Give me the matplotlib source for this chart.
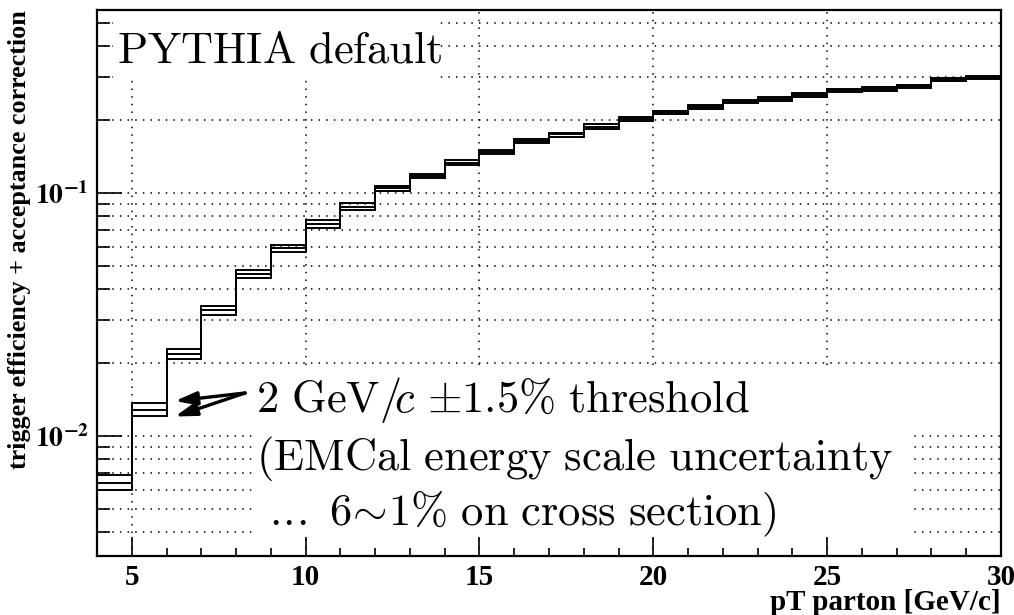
import numpy as np
import matplotlib.pyplot as plt
from matplotlib.patches import Rectangle
from matplotlib.ticker import FixedLocator, NullFormatter

plt.rcParams['mathtext.fontset'] = 'cm'

# bin edges in pT parton [GeV/c]
pt_edges = [4, 5, 6, 7, 8, 9, 10, 11, 12, 13, 14, 15, 16, 17, 18, 19, 20,
            21, 22, 23, 24, 25, 26, 27, 28, 29, 30]

# threshold 2 GeV/c -1.5%, nominal, +1.5%
eff_low_thr = [0.00689, 0.01359, 0.0227, 0.0343, 0.0481, 0.0611, 0.0772, 0.0904,
               0.1070, 0.1200, 0.1364, 0.1500, 0.1663, 0.1766, 0.1912, 0.2042,
               0.2168, 0.2296, 0.2406, 0.2468, 0.2563, 0.2680, 0.2714, 0.2774,
               0.2955, 0.3011]
eff_nominal = [0.00641, 0.01276, 0.0217, 0.0329, 0.0463, 0.0590, 0.0743, 0.0876,
               0.1045, 0.1175, 0.1329, 0.1475, 0.1633, 0.1739, 0.1869, 0.2016,
               0.2133, 0.2253, 0.2367, 0.2429, 0.2515, 0.2642, 0.2670, 0.2740,
               0.2917, 0.2972]
eff_high_thr = [0.00598, 0.01205, 0.0207, 0.0315, 0.0444, 0.0570, 0.0718, 0.0849,
                0.1020, 0.1146, 0.1297, 0.1443, 0.1597, 0.1700, 0.1833, 0.1978,
                0.2101, 0.2210, 0.2331, 0.2383, 0.2468, 0.2600, 0.2628, 0.2696,
                0.2881, 0.2927]

x_major = [5, 10, 15, 20, 25, 30]
y_major = [0.01, 0.1]
y_major_labels = [r'$\mathbf{10^{-2}}$', r'$\mathbf{10^{-1}}$']
y_minor = [0.004, 0.005, 0.006, 0.007, 0.008, 0.009,
           0.02, 0.03, 0.04, 0.05, 0.06, 0.07, 0.08, 0.09,
           0.2, 0.3, 0.4, 0.5]

lab_font = dict(family='Liberation Serif', weight='bold')

fig = plt.figure(figsize=(10.14, 6.15), dpi=100)
ax = fig.add_axes([0.0957, 0.0959, 0.8915, 0.8878])

for vals in (eff_low_thr, eff_nominal, eff_high_thr):
    ax.stairs(vals, pt_edges, color='k', lw=1.4, zorder=2)

ax.set_yscale('log')
ax.set_xlim(4, 30)
ax.set_ylim(0.0032, 0.565)

ax.xaxis.set_major_locator(FixedLocator(x_major))
ax.xaxis.set_minor_locator(FixedLocator(pt_edges))
ax.yaxis.set_major_locator(FixedLocator(y_major))
ax.yaxis.set_minor_locator(FixedLocator(y_minor))
ax.yaxis.set_minor_formatter(NullFormatter())
ax.set_xticklabels([str(v) for v in x_major], fontsize=21, **lab_font)
ax.set_yticklabels(y_major_labels, fontsize=20)
for t in ax.get_yticklabels():
    t.set_math_fontfamily('stix')

ax.tick_params(which='both', direction='in', width=1.2)
ax.tick_params(axis='x', which='major', length=14, pad=6)
ax.tick_params(axis='x', which='minor', length=6)
ax.tick_params(axis='y', which='major', length=18, pad=6)
ax.tick_params(axis='y', which='minor', length=9)

ax.set_axisbelow(True)
ax.grid(True, which='major', axis='x', color='k', ls=(0, (1, 4)), lw=1.1)
ax.grid(True, which='both', axis='y', color='k', ls=(0, (1, 4)), lw=1.1)
for s in ax.spines.values():
    s.set_linewidth(1.6)

ax.set_xlabel('pT parton [GeV/c]', fontsize=21, loc='right', **lab_font)
ax.xaxis.set_label_coords(1.0, -0.06)
ax.set_ylabel('trigger efficiency + acceptance correction', fontsize=18.8,
              loc='top', **lab_font)
ax.yaxis.set_label_coords(-0.073, 1.0)

# white boxes behind the texts
ax.add_patch(Rectangle((0.018, 0.875), 0.36, 0.125, transform=ax.transAxes,
                       facecolor='white', edgecolor='none', zorder=1))
ax.add_patch(Rectangle((0.173, 0.036), 0.73, 0.305, transform=ax.transAxes,
                       facecolor='white', edgecolor='none', zorder=1))

ax.text(0.022, 0.903, r'$\mathrm{PYTHIA\ default}$', transform=ax.transAxes,
        fontsize=32, va='baseline', zorder=3)
ax.text(0.176, 0.2637,
        r'$\mathrm{2\ GeV}/\!c\ {\pm}\mathrm{1.5\%\ threshold}$',
        transform=ax.transAxes, fontsize=32, va='baseline', zorder=3)
ax.text(0.176, 0.1575, r'$\mathrm{(EMCal\ energy\ scale\ uncertainty}$',
        transform=ax.transAxes, fontsize=32, va='baseline', zorder=3)
ax.text(0.19, 0.0568,
        r'$\mathrm{.\!.\!.\ 6}\!{\sim}\!\mathrm{1\%\ on\ cross\ section)}$',
        transform=ax.transAxes, fontsize=32, va='baseline', zorder=3)

arrow = dict(arrowstyle='-|>,head_length=1.3,head_width=0.4', lw=2.4,
             color='k', shrinkA=0, shrinkB=0)
ax.annotate('', xy=(6.24, 0.0139), xytext=(8.26, 0.0150), arrowprops=arrow, zorder=4)
ax.annotate('', xy=(6.24, 0.0120), xytext=(8.26, 0.0150), arrowprops=arrow, zorder=4)

fig.savefig('out.png', dpi=100)
